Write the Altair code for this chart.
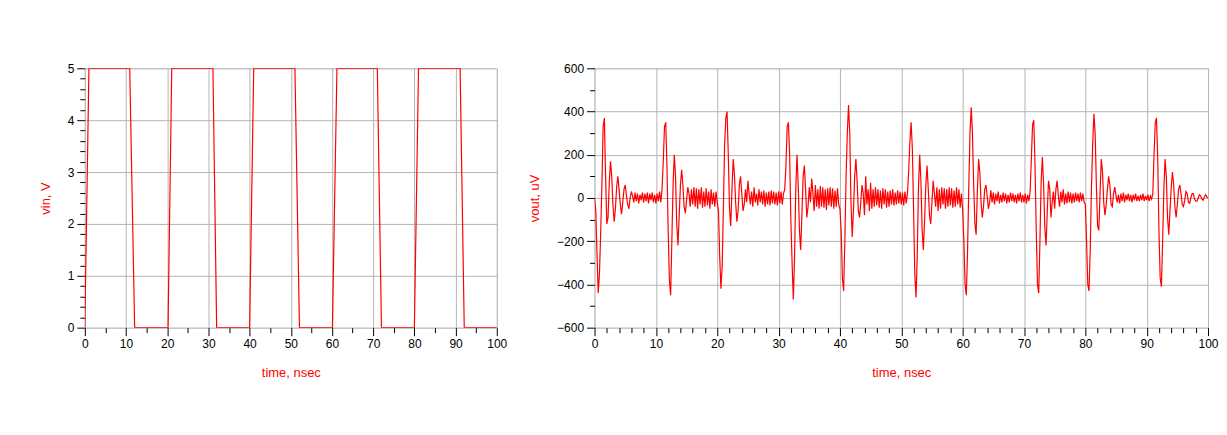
import altair as alt
import pandas as pd

# ---------------- data ----------------
vin_time = [0, 1.0, 10.9, 12.1, 20.2, 21.1, 31.1, 32.0, 40.0, 41.0, 51.0, 52.1,
            60.1, 61.2, 71.0, 72.0, 80.0, 81.0, 91.1, 92.1, 100]
vin_volts = [0, 5, 5, 0, 0, 5, 5, 0, 0, 5, 5, 0, 0, 5, 5, 0, 0, 5, 5, 0, 0]

vout_step_ns = 0.2
vout_0_10 = [0, -60, -260, -440, -350, -160, 60, 330, 370, 100,
             -120, -90, 70, 170, 100, -30, -110, -50, 50, 100,
             40, -30, -75, -20, 40, 60, 10, -30, -50, 0,
             30, 10, -20, 25, -15, 20, -25, 15, -10, 25,
             -20, 20, -15, 25, -25, 20, -10, 25, -20, 15]
vout_10_20 = [-25, 20, -15, 30, -20, 40, 170, 330, 350, 150,
              -150, -380, -450, -200, 60, 200, 100, -120, -220, -80,
              60, 130, 60, -40, -70, -10, 50, 20, -40, 40,
              -30, 50, -40, 45, -50, 40, -30, 50, -45, 30,
              -40, 45, -35, 30, -50, 40, -30, 25, -40, 30]
vout_20_30 = [-20, -60, -270, -420, -320, -50, 250, 370, 400, 200,
              -50, -130, 40, 180, 110, -20, -110, -60, 60, 100,
              20, -60, -30, 40, -20, 80, 20, -30, 30, -40,
              50, -20, 20, -35, 40, -20, 30, -30, 35, -40,
              25, -30, 30, -35, 35, -25, 30, -30, 25, -35]
vout_30_40 = [30, -25, 30, -30, 20, 40, 150, 330, 350, 200,
              -100, -300, -470, -280, 40, 200, 60, -150, -240, -80,
              100, 150, 40, -90, -40, 50, -20, 90, 20, -60,
              60, -40, 40, -50, 55, -40, 50, -45, 40, -55,
              45, -35, 50, -40, 45, -50, 35, -40, 45, -30]
vout_40_50 = [-50, -150, -370, -430, -200, 100, 300, 430, 300, -20,
              -180, -60, 100, 180, 80, -60, -90, -20, 60, 20,
              -80, 100, -30, 40, -60, 70, -50, 40, -40, 50,
              -35, 40, -45, 35, -50, 45, -30, 40, -45, 30,
              -40, 35, -30, 40, -35, 25, -30, 35, -25, 30]
vout_50_60 = [-30, 25, -35, 30, -25, 20, 120, 260, 350, 230,
              -50, -350, -460, -270, 50, 200, 80, -150, -240, -100,
              60, 150, 40, -80, -120, -20, 80, 20, -40, 50,
              -60, 40, -50, 50, -30, 45, -50, 40, -40, 50,
              -35, 45, -45, 35, -40, 50, -30, 40, -45, 20]
vout_60_70 = [-50, -200, -400, -450, -250, 50, 300, 420, 300, 60,
              -120, -170, 30, 180, 120, -20, -90, -40, 40, 60,
              10, -50, -20, 35, -20, 25, -30, 20, -15, 30,
              -25, 15, -20, 25, -15, 20, -25, 15, -20, 25,
              -15, 20, -20, 15, -25, 20, -15, 25, -20, 15]
vout_70_80 = [-20, 20, -25, 15, -15, 30, 180, 340, 360, 150,
              -150, -400, -440, -200, 80, 190, 60, -140, -220, -60,
              80, 40, -90, -20, 30, -50, 40, 80, 10, -40,
              30, -20, 40, -30, 20, -25, 30, -20, 25, -25,
              20, -20, 25, -15, 20, -20, 25, -15, 20, -20]
vout_80_90 = [-30, -200, -400, -430, -240, 50, 250, 390, 300, 60,
              -130, -150, 20, 180, 120, -20, -80, -30, 40, 100,
              60, -30, -40, 20, 50, 10, -20, 15, -25, 20,
              -15, 25, -20, 15, -10, 20, -15, 15, -20, 15,
              -10, 20, -15, 10, -15, 15, -10, 20, -15, 10]
vout_90_100 = [-10, 15, -15, 10, -5, 20, 200, 350, 370, 180,
               -150, -370, -410, -200, 40, 180, 100, -90, -170, -60,
               50, 120, 60, -40, -90, -30, 40, 60, 20, -30,
               -40, -10, 30, 20, -20, -25, 0, 20, 20, -5,
               -15, -15, 0, 15, 10, -5, -10, 5, 15, 5, 0]

vout_uv = (vout_0_10 + vout_10_20 + vout_20_30 + vout_30_40 + vout_40_50 +
           vout_50_60 + vout_60_70 + vout_70_80 + vout_80_90 + vout_90_100)
vout_time = [round(i * vout_step_ns, 1) for i in range(len(vout_uv))]

# tick positions
vin_x_major = [0, 10, 20, 30, 40, 50, 60, 70, 80, 90, 100]
vin_x_minor = [5, 15, 25, 35, 45, 55, 65, 75, 85, 95]
vin_y_major = [0, 1, 2, 3, 4, 5]
vin_y_minor = [round(i * 0.2, 1) for i in range(26) if i % 5 != 0]
vout_x_major = [0, 10, 20, 30, 40, 50, 60, 70, 80, 90, 100]
vout_x_minor = [i * 2 for i in range(51) if i % 5 != 0]
vout_y_major = [-600, -400, -200, 0, 200, 400, 600]
vout_y_minor = [-500, -300, -100, 100, 300, 500]

vin_df = pd.DataFrame({"t": vin_time, "v": vin_volts})
vout_df = pd.DataFrame({"t": vout_time, "v": vout_uv})

RED = "#ff0000"
FONT = "Liberation Sans"


def major_axis(values, title, orient, tp):
    return alt.Axis(values=values, title=title, orient=orient, grid=True,
                    gridColor="#b4b4b4", gridWidth=1, tickSize=8, tickColor="black",
                    domain=False, labelColor="black", labelFont=FONT, labelFontSize=12,
                    labelPadding=3, labelFlush=False, labelOverlap=False,
                    titleColor=RED, titleFont=FONT, titleFontSize=13,
                    titleFontWeight="normal", titlePadding=tp, format="d")


def minor_axis(values, orient):
    return alt.Axis(values=values, title=None, orient=orient, grid=False,
                    labels=False, tickSize=5, tickColor="black", domain=False)


def panel(df, xmaj, xmin, ymaj, ymin, ydom, ytitle, w, h):
    xs = alt.Scale(domain=[0, 100], nice=False, zero=False)
    ys = alt.Scale(domain=ydom, nice=False, zero=False)
    main = alt.Chart(df).mark_line(color=RED, strokeWidth=1.2, clip=True).encode(
        x=alt.X("t:Q", scale=xs, axis=major_axis(xmaj, "time, nsec", "bottom", 17)),
        y=alt.Y("v:Q", scale=ys, axis=major_axis(ymaj, ytitle, "left", 15)),
    )
    minor = alt.Chart(df).mark_line(strokeOpacity=0).encode(
        x=alt.X("t:Q", scale=xs, axis=minor_axis(xmin, "bottom")),
        y=alt.Y("v:Q", scale=ys, axis=minor_axis(ymin, "left")),
    )
    return alt.layer(minor, main).resolve_axis(x="independent", y="independent").properties(
        width=w, height=h)


left = panel(vin_df, vin_x_major, vin_x_minor, vin_y_major, vin_y_minor, [0, 5],
             "vin, V", 413, 260)
right = panel(vout_df, vout_x_major, vout_x_minor, vout_y_major, vout_y_minor,
              [-600, 600], "vout, uV", 615, 260)

chart = alt.hconcat(left, right, spacing=20).properties(
    padding={"left": 30, "top": 53, "right": 0, "bottom": 0}
).configure_view(stroke="black", strokeWidth=1).configure(background="white")

chart.save("out.html", embed_options={"renderer": "svg", "actions": False})
